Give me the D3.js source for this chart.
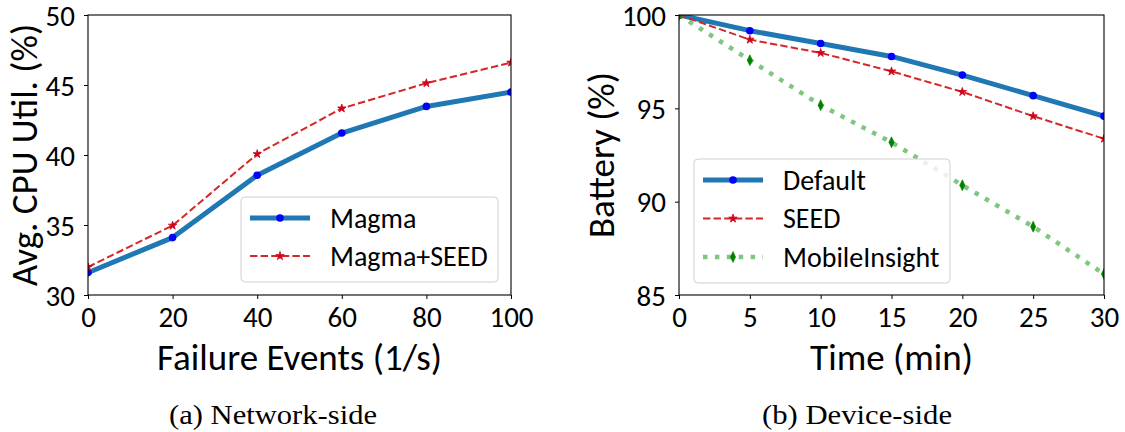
<!DOCTYPE html>
<html>
<head>
<meta charset="utf-8">
<script src="https://cdn.jsdelivr.net/npm/d3@7"></script>
<style>
  html, body { margin: 0; padding: 0; background: #fff; }
  svg { display: block; }
</style>
</head>
<body>
<svg id="chart" width="1125" height="432"></svg>
<script>
// ---------- data ----------
const failureEvents = [0, 20, 40, 60, 80, 100];
const magmaCPU      = [31.6, 34.1, 38.55, 41.57, 43.47, 44.49];
const magmaSeedCPU  = [32.0, 34.96, 40.07, 43.33, 45.13, 46.6];
const cpuTicks      = [30, 35, 40, 45, 50];
const failureTicks  = [0, 20, 40, 60, 80, 100];

const timeMin       = [0, 5, 10, 15, 20, 25, 30];
const defaultBatt   = [100, 99.16, 98.47, 97.78, 96.78, 95.68, 94.58];
const seedBatt      = [100, 98.68, 97.97, 96.98, 95.88, 94.58, 93.37];
const mobileInsBatt = [100, 97.58, 95.17, 93.18, 90.88, 88.66, 86.12];
const battTicks     = [85, 90, 95, 100];
const timeTicks     = [0, 5, 10, 15, 20, 25, 30];

const FONT = "Carlito, Lato, sans-serif";
const svg = d3.select("#chart");

const styles = {
  solid:  {stroke: "#1f77b4", width: 5, dash: null, marker: "circle", mfill: "#0000ff"},
  dashed: {stroke: "#d62728", width: 2, dash: "7.4,3.2", marker: "star", mfill: "#d0021b"},
  dotted: {stroke: "#2ca02c", opacity: 0.6, width: 4.5, dash: "4.5,7.4", marker: "diamond", mfill: "#008000"}
};

function markerPath(kind) {
  if (kind === "star") return d3.symbol(d3.symbolStar, 22)();
  if (kind === "diamond") return "M0,-5.5L2.6,0L0,5.5L-2.6,0Z";
  return null;
}

function drawMarker(g, kind, fill, cx, cy) {
  if (kind === "circle") {
    g.append("circle").attr("cx", cx).attr("cy", cy).attr("r", 3.8).attr("fill", fill);
  } else {
    g.append("path").attr("d", markerPath(kind))
      .attr("transform", `translate(${cx},${cy})`)
      .attr("fill", fill).attr("stroke", fill).attr("stroke-width", kind === "diamond" ? 0.6 : 0.8);
  }
}

function panel(cfg) {
  const x = d3.scaleLinear().domain(cfg.xDomain).range([cfg.left, cfg.right]);
  const y = d3.scaleLinear().domain(cfg.yDomain).range([cfg.bottom, cfg.top]);
  const g = svg.append("g");
  const clipId = "clip" + cfg.id;
  g.append("clipPath").attr("id", clipId).append("rect")
    .attr("x", cfg.left).attr("y", cfg.top)
    .attr("width", cfg.right - cfg.left).attr("height", cfg.bottom - cfg.top);

  const plot = g.append("g").attr("clip-path", `url(#${clipId})`);
  cfg.series.forEach(s => {
    const st = styles[s.style];
    const line = d3.line().x((d, i) => x(cfg.xs[i])).y(d => y(d));
    plot.append("path").datum(s.values).attr("d", line)
      .attr("fill", "none").attr("stroke", st.stroke)
      .attr("stroke-width", st.width)
      .attr("stroke-opacity", st.opacity || 1)
      .attr("stroke-dasharray", st.dash)
      .attr("stroke-linejoin", "round")
      .attr("stroke-linecap", st.dash ? "butt" : "square");
    const mg = plot.append("g");
    s.values.forEach((v, i) => drawMarker(mg, st.marker, st.mfill, x(cfg.xs[i]), y(v)));
  });

  // frame
  g.append("rect").attr("x", cfg.left).attr("y", cfg.top)
    .attr("width", cfg.right - cfg.left).attr("height", cfg.bottom - cfg.top)
    .attr("fill", "none").attr("stroke", "#000").attr("stroke-width", 1.1);

  // axes
  const xAxis = d3.axisBottom(x).tickValues(cfg.xTicks).tickSize(4).tickPadding(6).tickFormat(d3.format("d"));
  const ax = g.append("g").attr("transform", `translate(0,${cfg.bottom})`).call(xAxis);
  ax.select(".domain").remove();
  ax.selectAll("line").attr("stroke", "#000");
  ax.selectAll("text").attr("font-family", FONT).attr("font-size", 29).attr("fill", "#000")
    .attr("dy", null).attr("y", 22).attr("dominant-baseline", "central");

  const yAxis = d3.axisLeft(y).tickValues(cfg.yTicks).tickSize(4).tickPadding(9).tickFormat(d3.format("d"));
  const ay = g.append("g").attr("transform", `translate(${cfg.left},0)`).call(yAxis);
  ay.select(".domain").remove();
  ay.selectAll("line").attr("stroke", "#000");
  ay.selectAll("text").attr("font-family", FONT).attr("font-size", 29).attr("fill", "#000")
    .attr("dy", null).attr("dominant-baseline", "central");

  // axis labels
  g.append("text").attr("x", (cfg.left + cfg.right) / 2).attr("y", 357)
    .attr("text-anchor", "middle").attr("dominant-baseline", "central")
    .attr("font-family", FONT).attr("font-size", 37).text(cfg.xLabel);
  g.append("text")
    .attr("transform", `translate(${cfg.yLabelX},${(cfg.top + cfg.bottom) / 2}) rotate(-90)`)
    .attr("text-anchor", "middle").attr("dominant-baseline", "central")
    .attr("font-family", FONT).attr("font-size", 37).text(cfg.yLabel);

  // legend
  const L = cfg.legend;
  const lg = g.append("g");
  lg.append("rect").attr("x", L.x).attr("y", L.y).attr("width", L.w).attr("height", L.h)
    .attr("rx", 4).attr("fill", "#fff").attr("fill-opacity", 0.8)
    .attr("stroke", "#d0d0d0").attr("stroke-width", 1);
  cfg.series.forEach((s, i) => {
    const st = styles[s.style];
    const cy = L.rowY + i * L.rowGap;
    lg.append("line").attr("x1", L.hx1).attr("x2", L.hx2).attr("y1", cy).attr("y2", cy)
      .attr("stroke", st.stroke).attr("stroke-width", st.width)
      .attr("stroke-opacity", st.opacity || 1)
      .attr("stroke-dasharray", st.dash);
    drawMarker(lg, st.marker, st.mfill, (L.hx1 + L.hx2) / 2, cy);
    lg.append("text").attr("x", L.tx).attr("y", cy).attr("dominant-baseline", "central")
      .attr("font-family", FONT).attr("font-size", 28).text(s.name);
  });

  // caption
  svg.append("text").attr("x", cfg.capX).attr("y", 414)
    .attr("text-anchor", "middle").attr("dominant-baseline", "central")
    .attr("font-family", "'Liberation Serif', 'DejaVu Serif', serif").attr("font-size", 28)
    .attr("textLength", cfg.capW).attr("lengthAdjust", "spacingAndGlyphs")
    .text(cfg.caption);
}

panel({
  id: "a", left: 88, right: 511, top: 15, bottom: 295,
  xDomain: [0, 100], yDomain: [30, 50],
  xs: failureEvents, xTicks: failureTicks, yTicks: cpuTicks,
  xLabel: "Failure Events (1/s)", yLabel: "Avg. CPU Util. (%)", yLabelX: 24,
  series: [
    {name: "Magma", values: magmaCPU, style: "solid"},
    {name: "Magma+SEED", values: magmaSeedCPU, style: "dashed"}
  ],
  legend: {x: 241, y: 197, w: 257, h: 85, rowY: 218, rowGap: 38, hx1: 250, hx2: 310, tx: 330},
  caption: "(a) Network-side", capX: 273, capW: 208
});

panel({
  id: "b", left: 679, right: 1104, top: 15, bottom: 295,
  xDomain: [0, 30], yDomain: [85, 100],
  xs: timeMin, xTicks: timeTicks, yTicks: battTicks,
  xLabel: "Time (min)", yLabel: "Battery (%)", yLabelX: 601,
  series: [
    {name: "Default", values: defaultBatt, style: "solid"},
    {name: "SEED", values: seedBatt, style: "dashed"},
    {name: "MobileInsight", values: mobileInsBatt, style: "dotted"}
  ],
  legend: {x: 694, y: 159, w: 256, h: 124, rowY: 180, rowGap: 38.5, hx1: 703, hx2: 763, tx: 783},
  caption: "(b) Device-side", capX: 857, capW: 190
});
</script>
</body>
</html>
